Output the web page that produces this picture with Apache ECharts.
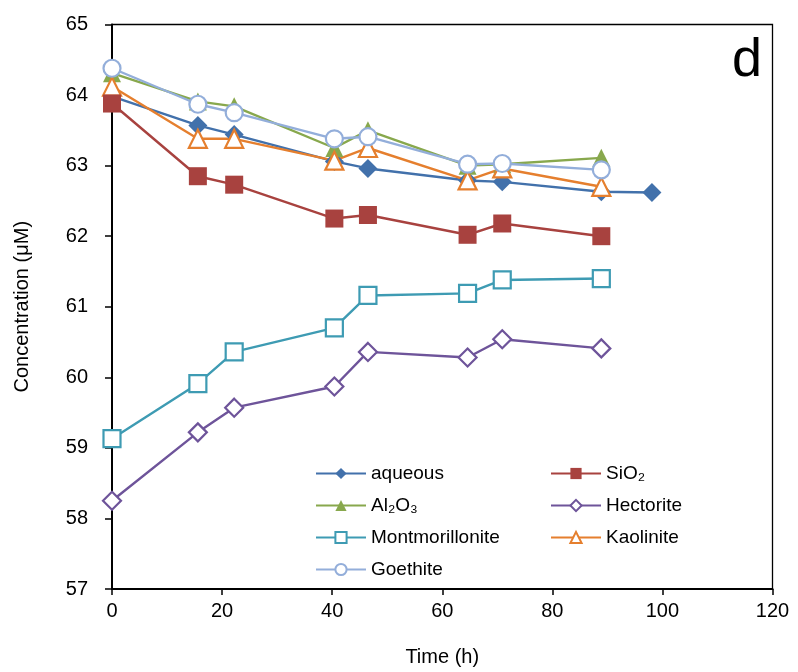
<!DOCTYPE html>
<html>
<head>
<meta charset="utf-8">
<script src="https://cdn.jsdelivr.net/npm/echarts@6/dist/echarts.min.js"></script>
<style>html,body{margin:0;padding:0;background:#fff}#c{width:798px;height:672px}</style>
</head>
<body>
<div id="c"></div>
<script>
var timesAqueous = [0, 15.6, 22.2, 40.4, 46.5, 64.6, 70.9, 88.9, 98.1];
var times = [0, 15.6, 22.2, 40.4, 46.5, 64.6, 70.9, 88.9];
var aqueous = [63.98, 63.57, 63.44, 63.06, 62.96, 62.79, 62.77, 62.63, 62.62];
var sio2 = [63.88, 62.85, 62.73, 62.25, 62.30, 62.02, 62.18, 62.00];
var al2o3 = [64.31, 63.91, 63.84, 63.25, 63.50, 63.00, 63.02, 63.11];
var hectorite = [58.25, 59.22, 59.57, 59.87, 60.36, 60.28, 60.54, 60.41];
var montmorillonite = [59.13, 59.91, 60.36, 60.70, 61.16, 61.19, 61.38, 61.40];
var kaolinite = [64.12, 63.38, 63.38, 63.07, 63.25, 62.79, 62.96, 62.70];
var goethite = [64.38, 63.87, 63.75, 63.38, 63.41, 63.02, 63.03, 62.94];
var xTicks = [0, 20, 40, 60, 80, 100, 120];
var yTicks = [57, 58, 59, 60, 61, 62, 63, 64, 65];

function pairs(t, v) { return v.map(function (y, i) { return [t[i], y]; }); }

var chart = echarts.init(document.getElementById('c'), null, {renderer: 'canvas'});
var font = 'Liberation Sans, Arial, sans-serif';

function mk(name, t, v, color, symbol, size, open, z) {
  return {
    name: name, type: 'line', data: pairs(t, v),
    symbol: symbol, symbolSize: size, showAllSymbol: true,
    lineStyle: {color: color, width: 2.4},
    itemStyle: open ? {color: '#fff', borderColor: color, borderWidth: 2.2} : {color: color, borderWidth: 0},
    emphasis: {disabled: true}, animation: false, z: z
  };
}

var seriesList = [
  mk('aqueous', timesAqueous, aqueous, '#4271AB', 'diamond', 19, false, 3),
  mk('SiO₂', times, sio2, '#A8423F', 'rect', 18, false, 4),
  mk('Al₂O₃', times, al2o3, '#88A84D', 'triangle', 18, false, 3),
  mk('Hectorite', times, hectorite, '#6E549A', 'diamond', 18, true, 3),
  mk('Montmorillonite', times, montmorillonite, '#3E9BB3', 'rect', 17, true, 3),
  mk('Kaolinite', times, kaolinite, '#E57F2E', 'triangle', 18, true, 3),
  mk('Goethite', times, goethite, '#93AEDA', 'circle', 17, true, 5)
];

var legendCommon = {
  orient: 'vertical', itemWidth: 50, itemHeight: 14, itemGap: 11,
  textStyle: {fontFamily: font, fontSize: 19, color: '#000', lineHeight: 21, padding: [0, 0, 0, 0]},
  selectedMode: false
};

chart.setOption({
  animation: false,
  backgroundColor: '#fff',
  grid: {left: 112, right: 25.5, top: 24.5, bottom: 81, show: true, borderColor: '#000', borderWidth: 1.3, backgroundColor: 'transparent'},
  xAxis: {
    type: 'value', min: 0, max: 120, interval: 20,
    name: 'Time (h)', nameLocation: 'middle', nameGap: 58,
    nameTextStyle: {fontFamily: font, fontSize: 20, color: '#000'},
    axisLine: {show: true, lineStyle: {color: '#000', width: 2}},
    axisTick: {show: true, length: 6, lineStyle: {color: '#000', width: 1.5}},
    axisLabel: {fontFamily: font, fontSize: 20, color: '#000', margin: 12,
      formatter: function (v) { return xTicks.indexOf(v) >= 0 ? String(v) : ''; }},
    splitLine: {show: false}
  },
  yAxis: {
    type: 'value', min: 57, max: 65, interval: 1,
    name: 'Concentration (μM)', nameLocation: 'middle', nameGap: 80,
    nameTextStyle: {fontFamily: font, fontSize: 20, color: '#000'},
    axisLine: {show: true, lineStyle: {color: '#000', width: 2}},
    axisTick: {show: true, length: 7, lineStyle: {color: '#000', width: 1.5}},
    axisLabel: {fontFamily: font, fontSize: 20, color: '#000', margin: 24,
      formatter: function (v) { return yTicks.indexOf(v) >= 0 ? String(v) : ''; }},
    splitLine: {show: false}
  },
  legend: [
    Object.assign({}, legendCommon, {left: 310, top: 458, data: ['aqueous', 'Al₂O₃', 'Montmorillonite', 'Goethite']}),
    Object.assign({}, legendCommon, {left: 545, top: 458, data: ['SiO₂', 'Hectorite', 'Kaolinite']})
  ],
  graphic: [{
    type: 'text', left: 732, top: 34, z: 10,
    style: {text: 'd', fontFamily: font, fontSize: 54, fill: '#000'}
  }],
  series: seriesList
});
</script>
</body>
</html>
